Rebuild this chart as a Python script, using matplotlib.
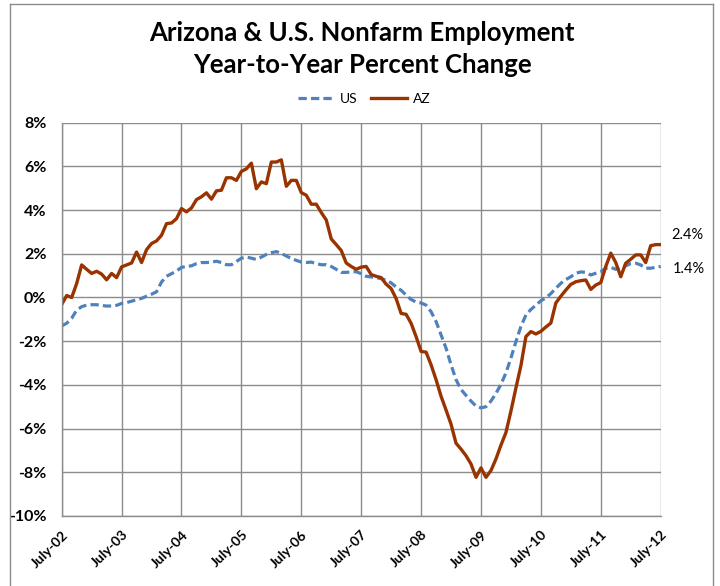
import matplotlib
matplotlib.use("Agg")
import matplotlib.pyplot as plt
from matplotlib.lines import Line2D
import numpy as np

# Variación interanual del empleo no agrícola, julio 2002 - julio 2012 (mensual)
az = [-0.32, 0.09, 0.00, 0.64, 1.49, 1.29, 1.10, 1.20, 1.07, 0.81, 1.10, 0.91,
      1.40, 1.49, 1.58, 2.08, 1.60, 2.19, 2.47, 2.59, 2.85, 3.38, 3.41, 3.61,
      4.07, 3.92, 4.10, 4.48, 4.61, 4.79, 4.50, 4.88, 4.91, 5.48, 5.48, 5.36,
      5.77, 5.89, 6.15, 4.98, 5.29, 5.21, 6.20, 6.20, 6.30, 5.09, 5.36, 5.36,
      4.80, 4.68, 4.27, 4.27, 3.89, 3.55, 2.68, 2.42, 2.15, 1.58, 1.42, 1.29,
      1.39, 1.42, 1.05, 0.97, 0.91, 0.61, 0.41, -0.05, -0.73, -0.77, -1.18, -1.79,
      -2.47, -2.50, -3.08, -3.76, -4.52, -5.15, -5.80, -6.67, -6.94, -7.24, -7.62, -8.23,
      -7.80, -8.23, -7.92, -7.39, -6.76, -6.18, -5.20, -4.14, -3.12, -1.79, -1.56, -1.67,
      -1.55, -1.35, -1.17, -0.25, 0.06, 0.34, 0.60, 0.72, 0.77, 0.80, 0.37, 0.57,
      0.68, 1.42, 2.03, 1.60, 0.95, 1.57, 1.75, 1.95, 1.95, 1.60, 2.37, 2.42,
      2.42]

us = [-1.30, -1.18, -0.95, -0.58, -0.42, -0.35, -0.33, -0.33, -0.37, -0.39, -0.39, -0.36,
      -0.27, -0.23, -0.17, -0.10, -0.04, 0.06, 0.15, 0.26, 0.71, 0.97, 1.09, 1.21,
      1.38, 1.42, 1.45, 1.55, 1.60, 1.60, 1.62, 1.66, 1.60, 1.50, 1.50, 1.65,
      1.80, 1.85, 1.80, 1.74, 1.85, 1.97, 2.05, 2.10, 2.02, 1.90, 1.78, 1.70,
      1.62, 1.60, 1.62, 1.55, 1.50, 1.50, 1.42, 1.29, 1.15, 1.15, 1.17, 1.18,
      1.09, 0.97, 0.94, 0.91, 0.86, 0.79, 0.67, 0.48, 0.33, 0.11, -0.09, -0.21,
      -0.25, -0.35, -0.65, -1.10, -1.71, -2.32, -3.08, -3.76, -4.21, -4.48, -4.74, -4.97,
      -5.05, -5.00, -4.74, -4.39, -3.98, -3.45, -2.77, -2.02, -1.33, -0.80, -0.55, -0.35,
      -0.15, -0.02, 0.18, 0.42, 0.65, 0.82, 0.95, 1.11, 1.17, 1.15, 1.03, 1.11,
      1.18, 1.34, 1.38, 1.29, 1.38, 1.45, 1.55, 1.57, 1.49, 1.34, 1.34, 1.38,
      1.42]

etiquetas_x = ["July-02", "July-03", "July-04", "July-05", "July-06", "July-07",
               "July-08", "July-09", "July-10", "July-11", "July-12"]

color_az = "#993300"
color_us = "#4F81BD"
fuente = ["Lato", "DejaVu Sans"]
plt.rcParams["font.family"] = fuente

meses = np.arange(len(az))

fig = plt.figure(figsize=(7.2, 5.86), dpi=100)
ax = fig.add_axes([0.0857, 0.1195, 0.9176 - 0.0857, 0.7906 - 0.1195])

ax.plot(meses, us, color=color_us, linewidth=2.3, dashes=(2.6, 1.3), label="US")
ax.plot(meses, az, color=color_az, linewidth=2.4, label="AZ")

ax.set_xlim(0, 120)
ax.set_ylim(-10, 8)
ax.set_yticks(np.arange(-10, 9, 2))
ax.set_yticklabels([f"{v}%" for v in range(-10, 9, 2)], fontsize=11.5, fontweight="bold")
ax.set_xticks(np.arange(0, 121, 12))
ax.set_xticklabels(etiquetas_x, fontsize=10, fontweight="bold", rotation=45,
                   ha="right", rotation_mode="anchor")
ax.tick_params(axis="y", length=0, pad=11)
ax.tick_params(axis="x", length=0, pad=9)

ax.grid(True, color="#8c8c8c", linewidth=1.0)
ax.set_axisbelow(True)
for lado in ["top", "right"]:
    ax.spines[lado].set_visible(False)
for lado in ["left", "bottom"]:
    ax.spines[lado].set_color("#8c8c8c")
    ax.spines[lado].set_linewidth(1.0)

# Etiquetas del último dato
ax.annotate(f"{az[-1]:.1f}%", xy=(meses[-1], az[-1]), xytext=(8, 7),
            textcoords="offset points", fontsize=10.5, va="center", ha="left",
            annotation_clip=False)
ax.annotate(f"{us[-1]:.1f}%", xy=(meses[-1], us[-1]), xytext=(9, -2),
            textcoords="offset points", fontsize=10.5, va="center", ha="left",
            annotation_clip=False)

fig.text(0.503, 0.9437, "Arizona & U.S. Nonfarm Employment", ha="center", va="center",
         fontsize=18.5, fontweight="bold")
fig.text(0.503, 0.889, "Year-to-Year Percent Change", ha="center", va="center",
         fontsize=18.5, fontweight="bold")

fig.legend(loc="center", bbox_to_anchor=(0.506, 0.831), ncol=2, frameon=False,
           fontsize=10, handlelength=2.6, columnspacing=1.0, handletextpad=0.4)

# Borde del área del gráfico
borde = dict(color="#8c8c8c", linewidth=1.0, transform=fig.transFigure)
fig.add_artist(Line2D([0.0132, 0.0132], [0, 0.9932], **borde))
fig.add_artist(Line2D([0.0132, 0.990], [0.9932, 0.9932], **borde))
fig.add_artist(Line2D([0.990, 0.990], [0, 0.9932], **borde))

fig.savefig("out.png", dpi=100)
